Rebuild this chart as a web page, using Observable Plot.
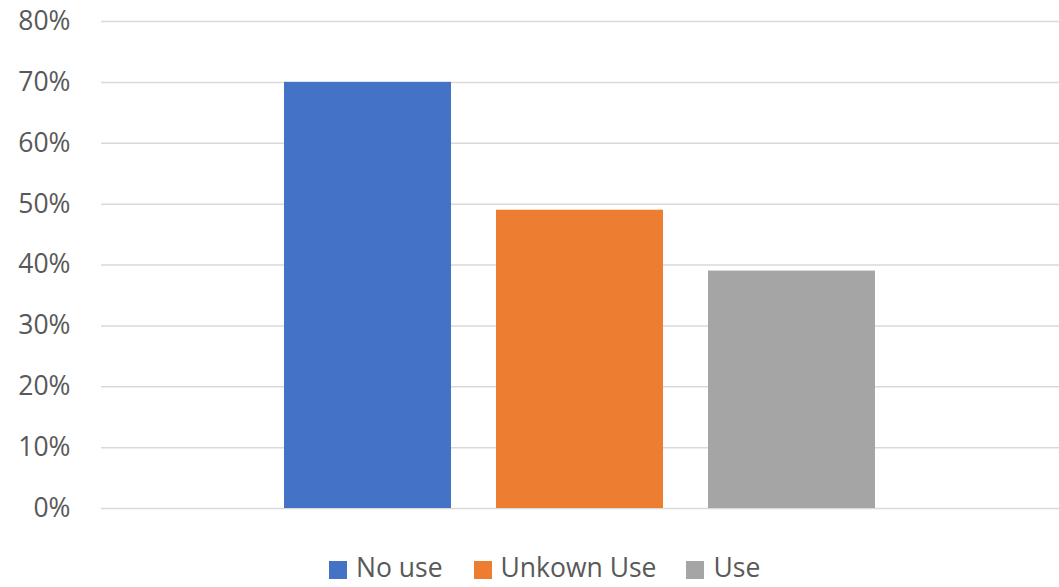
<!DOCTYPE html>
<html>
<head>
<meta charset="utf-8">
<script src="https://cdn.jsdelivr.net/npm/d3@7"></script>
<script src="https://cdn.jsdelivr.net/npm/@observablehq/plot@0.6"></script>
<style>
  html, body { margin: 0; padding: 0; background: #fff; }
  #chart svg { display: block; }
  .legend { display: flex; align-items: center; height: 27px; margin-top: 9px; padding-left: 329px;
            font-family: "Open Sans", sans-serif; font-size: 26.5px; line-height: 1; color: #595959; }
  .legend .item { display: flex; align-items: center; }
  .legend .sw { width: 18px; height: 18px; margin-right: 9px; position: relative; top: 2px; }
</style>
</head>
<body>
<div id="chart"></div>
<script>
const categories = ["No use", "Unkown Use", "Use"];
const values = [70, 49, 39];
const colors = ["#4472C4", "#ED7D31", "#A5A5A5"];
const yTicks = [0, 10, 20, 30, 40, 50, 60, 70, 80];

const data = categories.map((c, i) => ({category: c, value: values[i]}));

const plot = Plot.plot({
  width: 1059,
  height: 545,
  marginLeft: 101,
  marginRight: 0,
  marginTop: 21,
  marginBottom: 37,
  style: {fontFamily: "Open Sans, sans-serif", color: "#595959", background: "#fff"},
  x: {domain: categories, range: [261, 898], paddingInner: 0.214, paddingOuter: 0.107, axis: null},
  y: {domain: [0, 80]},
  color: {domain: categories, range: colors},
  marks: [
    Plot.ruleY(yTicks, {stroke: "#d9d9d9", strokeWidth: 1.5}),
    Plot.barY(data, {x: "category", y: "value", fill: "category"}),
    Plot.axisY({ticks: yTicks, tickSize: 0, tickPadding: 31, tickFormat: d => d + "%", fontSize: 26.5, label: null})
  ]
});
document.getElementById("chart").appendChild(plot);

const legend = document.createElement("div");
legend.className = "legend";
const gaps = [31, 30, 0];
categories.forEach((c, i) => {
  const item = document.createElement("div");
  item.className = "item";
  item.style.marginRight = gaps[i] + "px";
  const sw = document.createElement("span");
  sw.className = "sw";
  sw.style.background = colors[i];
  const t = document.createElement("span");
  t.textContent = c;
  item.appendChild(sw);
  item.appendChild(t);
  legend.appendChild(item);
});
document.getElementById("chart").appendChild(legend);
</script>
</body>
</html>
